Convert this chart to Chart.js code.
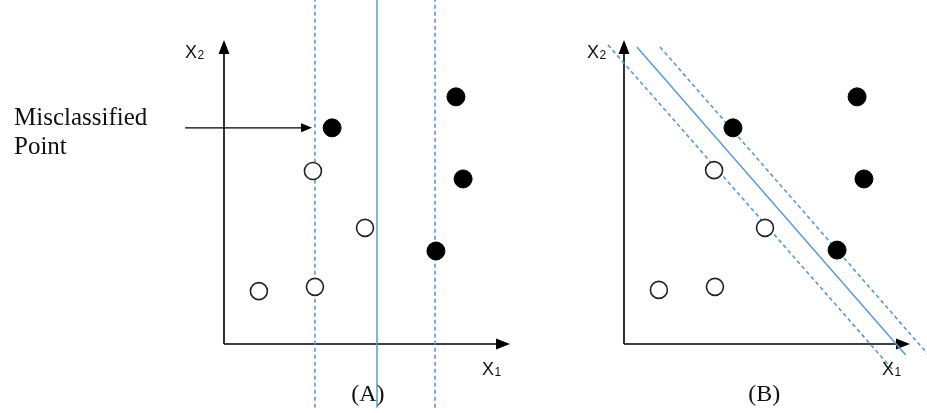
<!DOCTYPE html>
<html>
<head>
<meta charset="utf-8">
<script src="https://cdn.jsdelivr.net/npm/chart.js@4.4.1/dist/chart.umd.min.js"></script>
<style>
  html, body { margin: 0; padding: 0; background: #fff; }
  #wrap { position: relative; width: 927px; height: 413px; }
</style>
</head>
<body>
<div id="wrap"><canvas id="svm"></canvas></div>
<script>
// (A) linear SVM with one point on the wrong side of the margin
const filledA = [[3.78, 7.11], [8.11, 8.13], [8.36, 5.43], [7.41, 3.06]];
const hollowA = [[3.11, 5.69], [4.93, 3.82], [1.22, 1.74], [3.18, 1.88]];
const boundaryA = 5.35;             // x1 = const
const marginsA = [3.18, 7.38];

// (B) same classes, separated by a tilted hyperplane
const filledB = [[3.81, 7.11], [8.15, 8.13], [8.39, 5.43], [7.45, 3.09]];
const hollowB = [[3.15, 5.72], [4.93, 3.82], [1.22, 1.78], [3.18, 1.88]];
const boundaryB = [[0.45, 9.77], [9.85, -0.36]];
const lowerMarginB = [[-0.56, 9.84], [9.4, -0.85]];
const upperMarginB = [[1.26, 9.77], [10.6, -0.31]];

const captions = ['(A)', '(B)'];
const noteLines = ['Misclassified', 'Point'];

// frame geometry (pixels)
const W = 927, H = 413;
const originA = 224, originB = 624, originY = 344;
const unitX = 28.6, unitY = 30.4;
const lineTop = 11.4, lineBottom = -2.1;

const BLUE = '#5b9bd5';
const pts = arr => arr.map(([x, y]) => ({ x, y }));
const vline = x => [{ x, y: lineBottom }, { x, y: lineTop }];

function pointSet(data, axis, filled) {
  return {
    data: pts(data), xAxisID: axis, order: 0,
    pointRadius: filled ? 9 : 8.5,
    pointBackgroundColor: filled ? '#000' : '#fff',
    pointBorderColor: filled ? '#000' : '#222',
    pointBorderWidth: filled ? 1 : 1.6
  };
}
function lineSet(data, axis, dashed) {
  return {
    data, xAxisID: axis, order: 1, showLine: true, pointRadius: 0,
    borderColor: BLUE, borderWidth: dashed ? 1.6 : 1.5,
    borderDash: dashed ? [4, 3] : []
  };
}

// draws the arrowed axes and all the text of both panels
const frames = {
  id: 'frames',
  beforeDatasetsDraw(chart) {
    const ctx = chart.ctx, y = chart.scales.y;
    ['xA', 'xB'].forEach(id => {
      const x = chart.scales[id];
      const ox = x.getPixelForValue(0), oy = y.getPixelForValue(0);
      const ex = x.getPixelForValue(10), ty = y.getPixelForValue(10);
      ctx.save();
      ctx.strokeStyle = '#000'; ctx.fillStyle = '#000'; ctx.lineWidth = 1.6;
      ctx.beginPath();
      ctx.moveTo(ox, oy); ctx.lineTo(ex - 8, oy);
      ctx.moveTo(ox, oy); ctx.lineTo(ox, ty + 8);
      ctx.stroke();
      ctx.beginPath();
      ctx.moveTo(ex, oy); ctx.lineTo(ex - 14, oy - 5.5); ctx.lineTo(ex - 14, oy + 5.5);
      ctx.closePath(); ctx.fill();
      ctx.beginPath();
      ctx.moveTo(ox, ty); ctx.lineTo(ox - 5.5, ty + 14); ctx.lineTo(ox + 5.5, ty + 14);
      ctx.closePath(); ctx.fill();
      ctx.restore();
    });
  },
  afterDatasetsDraw(chart) {
    const ctx = chart.ctx, y = chart.scales.y;
    const sub = (x, yv, n) => {
      ctx.font = '18px "Liberation Sans", Arial, sans-serif';
      ctx.textAlign = 'left'; ctx.textBaseline = 'alphabetic';
      ctx.fillText('X', x, yv);
      const w = ctx.measureText('X').width;
      ctx.font = '12px "Liberation Sans", Arial, sans-serif';
      ctx.fillText(n, x + w + 0.5, yv + 1);
    };
    ctx.save();
    ctx.fillStyle = '#111';
    ['xA', 'xB'].forEach((id, i) => {
      const x = chart.scales[id];
      sub(x.getPixelForValue(i ? -1.29 : -1.36), y.getPixelForValue(9.41), '2');
      sub(x.getPixelForValue(9.02), y.getPixelForValue(-1.02), '1');
      ctx.font = '24px "Liberation Serif", "Times New Roman", serif';
      ctx.textAlign = 'center';
      ctx.fillText(captions[i], x.getPixelForValue(i ? 4.9 : 5.03), y.getPixelForValue(-1.88));
    });
    // note + arrow pointing at the misclassified point
    const xa = chart.scales.xA;
    ctx.font = '25px "Liberation Serif", "Times New Roman", serif';
    ctx.textAlign = 'left';
    ctx.fillText(noteLines[0], 14, 125);
    ctx.fillText(noteLines[1], 14, 154);
    const ay = y.getPixelForValue(7.11), x0 = xa.getPixelForValue(-1.36), x1 = xa.getPixelForValue(3.08);
    ctx.strokeStyle = '#000'; ctx.fillStyle = '#000'; ctx.lineWidth = 1.4;
    ctx.beginPath(); ctx.moveTo(x0, ay); ctx.lineTo(x1 - 8, ay); ctx.stroke();
    ctx.beginPath();
    ctx.moveTo(x1, ay); ctx.lineTo(x1 - 11, ay - 4.5); ctx.lineTo(x1 - 11, ay + 4.5);
    ctx.closePath(); ctx.fill();
    ctx.restore();
  }
};

new Chart(document.getElementById('svm'), {
  type: 'scatter',
  data: {
    datasets: [
      pointSet(filledA, 'xA', true),
      pointSet(hollowA, 'xA', false),
      pointSet(filledB, 'xB', true),
      pointSet(hollowB, 'xB', false),
      lineSet(vline(boundaryA), 'xA', false),
      lineSet(vline(marginsA[0]), 'xA', true),
      lineSet(vline(marginsA[1]), 'xA', true),
      lineSet(pts(boundaryB), 'xB', false),
      lineSet(pts(lowerMarginB), 'xB', true),
      lineSet(pts(upperMarginB), 'xB', true)
    ]
  },
  options: {
    responsive: true,
    maintainAspectRatio: false,
    animation: false,
    layout: { padding: 0, autoPadding: false },
    plugins: { legend: { display: false }, tooltip: { enabled: false } },
    scales: {
      xA: { type: 'linear', axis: 'x', display: false,
            min: -originA / unitX, max: (W - originA) / unitX },
      xB: { type: 'linear', axis: 'x', display: false,
            min: -originB / unitX, max: (W - originB) / unitX },
      y: { type: 'linear', display: false,
           min: -(H - originY) / unitY, max: originY / unitY }
    }
  },
  plugins: [frames]
});
</script>
</body>
</html>
